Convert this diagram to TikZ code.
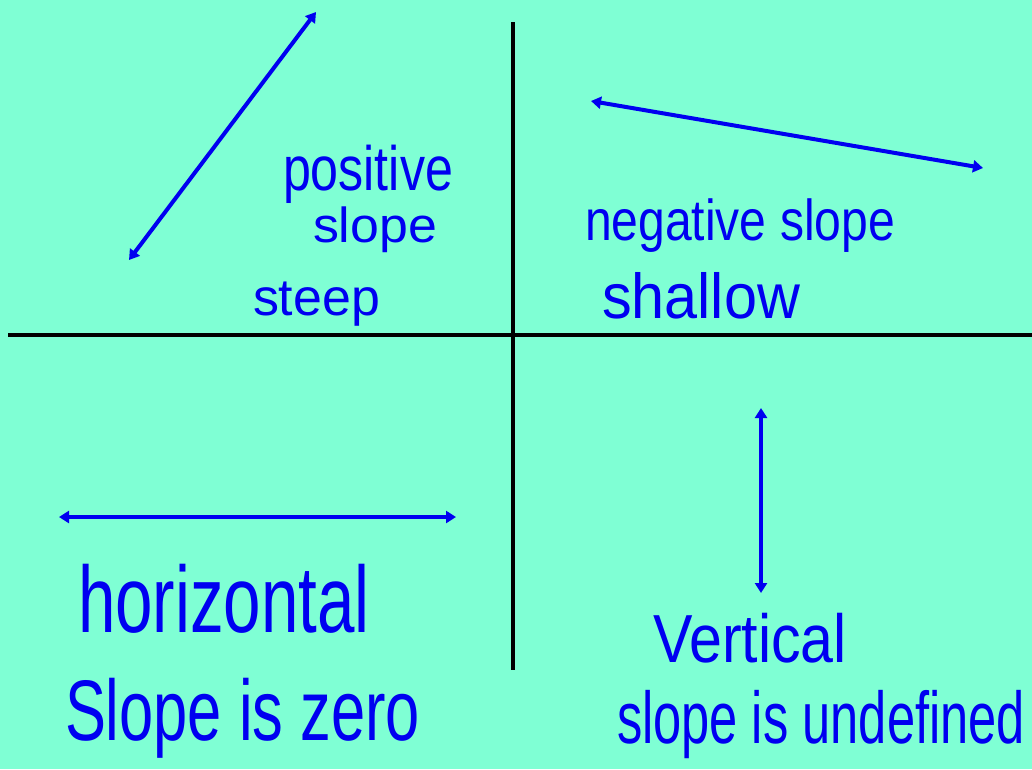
\documentclass[tikz,border=0pt]{standalone}
\usepackage{fontspec}
\usepackage{graphicx}
\setmainfont{Liberation Sans}
\usetikzlibrary{arrows.meta}
\definecolor{bgc}{RGB}{127,255,212}
\definecolor{ink}{RGB}{0,0,240}
\newcommand{\handtext}[3]{\scalebox{1}[#2]{\resizebox{#1}{!}{#3}}}
\tikzset{
  axisline/.style={line width=3.5pt, black},
  slopearrow/.style={line width=4pt, ink, {Triangle[length=10pt,width=12pt]}-{Triangle[length=10pt,width=12pt]}},
  hand/.style={inner sep=0pt, outer sep=0pt, anchor=base west, text=ink, font=\fontsize{40}{48}\selectfont}
}
\begin{document}
\begin{tikzpicture}[x=1pt,y=-1pt]
\fill[bgc] (0,0) rectangle (1032,769);
\useasboundingbox (0,0) rectangle (1032,769);
% axes
\coordinate (xl) at (8,335);
\coordinate (xr) at (1032,335);
\coordinate (yt) at (513,22);
\coordinate (yb) at (513,670);
\draw[axisline] (xl) -- (xr);
\draw[axisline] (yt) -- (yb);
% arrows
\coordinate (pa) at (129,260);
\coordinate (pb) at (316,12);
\draw[slopearrow] (pa) -- (pb);
\coordinate (na) at (591,101);
\coordinate (nb) at (983,168);
\draw[slopearrow] (na) -- (nb);
\coordinate (ha) at (59,517);
\coordinate (hb) at (456,517);
\draw[slopearrow] (ha) -- (hb);
\coordinate (va) at (761,408);
\coordinate (vb) at (761,593);
\draw[slopearrow] (va) -- (vb);
% labels
\node[hand] (t1) at (283,190) {\handtext{170pt}{1.25}{positive}};
\node[hand] (t2) at (313,242) {\handtext{124pt}{0.95}{slope}};
\node[hand] (t3) at (253,315) {\handtext{127pt}{1.0}{steep}};
\node[hand] (t4) at (585,240) {\handtext{310pt}{1.2}{negative slope}};
\node[hand] (t5) at (602,318) {\handtext{198pt}{1.07}{shallow}};
\node[hand] (t6) at (78,632) {\handtext{292pt}{1.4}{horizontal}};
\node[hand] (t7) at (65,740) {\handtext{355pt}{1.4}{Slope is zero}};
\node[hand] (t8) at (653,662) {\handtext{194pt}{1.15}{Vertical}};
\node[hand] (t9) at (617,743) {\handtext{408pt}{1.45}{slope is undefined}};
\end{tikzpicture}
\end{document}
